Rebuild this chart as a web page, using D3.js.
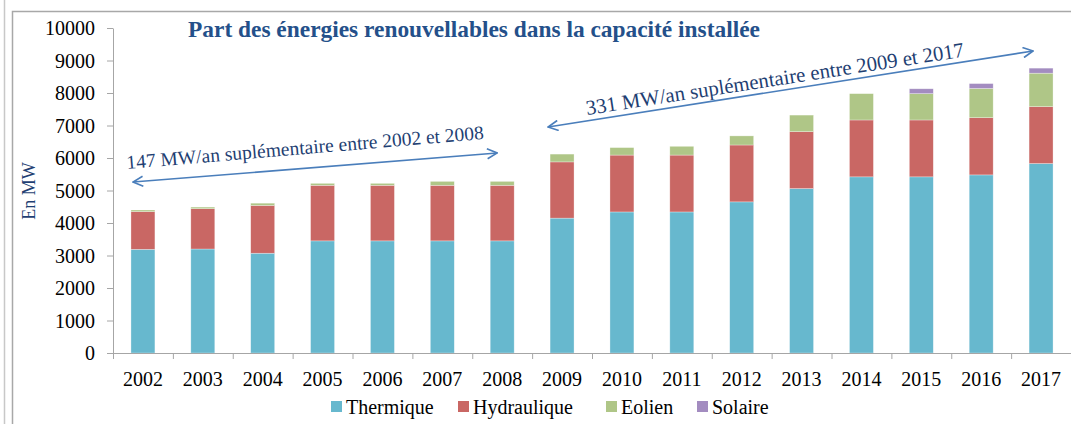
<!DOCTYPE html>
<meta charset="utf-8">
<html>
<head>
<script src="https://d3js.org/d3.v7.min.js"></script>
<style>
  body { margin: 0; background: #fff; }
  text { font-family: "Liberation Serif", "Times New Roman", serif; }
</style>
</head>
<body>
<div id="my_dataviz"></div>
<script>
// data (MW)
const years = ["2002","2003","2004","2005","2006","2007","2008","2009","2010","2011","2012","2013","2014","2015","2016","2017"];
const thermique = [3190, 3200, 3070, 3450, 3450, 3450, 3450, 4150, 4340, 4340, 4650, 5060, 5420, 5420, 5480, 5830];
const hydraulique = [1160, 1240, 1470, 1710, 1710, 1710, 1710, 1730, 1750, 1750, 1750, 1750, 1750, 1750, 1760, 1750];
const eolien = [50, 50, 70, 60, 60, 120, 120, 240, 230, 270, 280, 510, 810, 810, 900, 1030];
const solaire = [0, 0, 0, 0, 0, 0, 0, 0, 0, 0, 0, 0, 0, 150, 150, 155];
const seriesNames = ["Thermique", "Hydraulique", "Eolien", "Solaire"];
const colors = ["#67b8ce", "#c96764", "#afc687", "#a38cc0"];
const yTicks = [0, 1000, 2000, 3000, 4000, 5000, 6000, 7000, 8000, 9000, 10000];

const width = 1071, height = 424;
const plotLeft = 113, plotRight = 1071, plotTop = 28, plotBottom = 353;

const svg = d3.select("#my_dataviz")
  .append("svg")
    .attr("width", width)
    .attr("height", height);

// frame lines of the pasted picture
svg.append("line").attr("x1", 4.5).attr("x2", 4.5).attr("y1", 0).attr("y2", height)
  .attr("stroke", "#c8c8c8").attr("stroke-width", 1.5);
svg.append("path").attr("d", `M12.5,${height} V11.5 H${width}`)
  .attr("fill", "none").attr("stroke", "#a8a8a8").attr("stroke-width", 1.5);

const rows = years.map((y, i) => ({
  year: y,
  Thermique: thermique[i], Hydraulique: hydraulique[i], Eolien: eolien[i], Solaire: solaire[i]
}));
const stacked = d3.stack().keys(seriesNames)(rows);

const x = d3.scaleBand()
  .domain(years)
  .range([plotLeft, plotRight])
  .paddingInner(0.6)
  .paddingOuter(0.3);
const y = d3.scaleLinear()
  .domain([0, 10000])
  .range([plotBottom, plotTop]);
const color = d3.scaleOrdinal().domain(seriesNames).range(colors);

// bars
svg.append("g")
  .selectAll("g")
  .data(stacked)
  .join("g")
    .attr("fill", d => color(d.key))
  .selectAll("rect")
  .data(d => d.filter(v => v[1] > v[0]))
  .join("rect")
    .attr("x", d => x(d.data.year))
    .attr("y", d => y(d[1]))
    .attr("height", d => y(d[0]) - y(d[1]))
    .attr("width", x.bandwidth())
    .attr("stroke", "#ffffff")
    .attr("stroke-opacity", 0.5)
    .attr("stroke-width", 0.6);

// Y axis
const yAxis = svg.append("g")
  .attr("transform", `translate(${plotLeft},0)`)
  .call(d3.axisLeft(y).tickValues(yTicks).tickFormat(d3.format("d"))
    .tickSize(6).tickSizeOuter(0).tickPadding(12));
yAxis.select(".domain").attr("stroke", "#a6a6a6");
yAxis.selectAll(".tick line").attr("stroke", "#a6a6a6");
yAxis.selectAll(".tick text")
  .attr("font-size", 20)
  .attr("fill", "#000")
  .attr("dy", "0.34em");

// X axis: ticks at category boundaries, labels under bars
const xi = d3.scaleLinear().domain([0, years.length]).range([plotLeft, plotRight]);
const xAxis = svg.append("g")
  .attr("transform", `translate(0,${plotBottom})`)
  .call(d3.axisBottom(xi).tickValues(d3.range(years.length + 1)).tickFormat("").tickSize(6).tickSizeOuter(0));
xAxis.select(".domain").attr("stroke", "#a6a6a6");
xAxis.selectAll(".tick line").attr("stroke", "#a6a6a6");
svg.append("g")
  .selectAll("text")
  .data(years)
  .join("text")
    .attr("x", d => x(d) + x.bandwidth() / 2)
    .attr("y", 386)
    .attr("text-anchor", "middle")
    .attr("font-size", 20)
    .attr("fill", "#000")
    .text(d => d);

// Y axis title
svg.append("text")
  .attr("transform", "translate(35,191) rotate(-90)")
  .attr("text-anchor", "middle")
  .attr("font-size", 18)
  .attr("fill", "#1f3f73")
  .text("En MW");

// title
svg.append("text")
  .attr("x", 474)
  .attr("y", 37)
  .attr("text-anchor", "middle")
  .attr("font-size", 23.4)
  .attr("font-weight", "bold")
  .attr("fill", "#24508a")
  .text("Part des énergies renouvellables dans la capacité installée");

// annotation arrows
const defs = svg.append("defs");
defs.append("marker")
  .attr("id", "head")
  .attr("viewBox", "0 0 12 12")
  .attr("refX", 11).attr("refY", 6)
  .attr("markerWidth", 12).attr("markerHeight", 12)
  .attr("markerUnits", "userSpaceOnUse")
  .attr("orient", "auto-start-reverse")
  .append("path")
    .attr("d", "M1,1 L11,6 L1,11")
    .attr("fill", "none")
    .attr("stroke", "#4a7ebb")
    .attr("stroke-width", 1.6);

// arrows span the year groups they describe
const arrows = [
  {x1: x("2002") + 2, y1: 182, x2: x("2008") + 7, y2: 153,
   text: "147 MW/an suplémentaire entre 2002 et 2008", size: 19.5, tx: 127, ty: 169, angle: -4.8},
  {x1: x("2009") - 2, y1: 127, x2: x("2017") + 4, y2: 51,
   text: "331 MW/an suplémentaire entre 2009 et 2017", size: 20.8, tx: 587, ty: 115, angle: -8.8}
];
arrows.forEach(a => {
  svg.append("line")
    .attr("x1", a.x1).attr("y1", a.y1)
    .attr("x2", a.x2).attr("y2", a.y2)
    .attr("stroke", "#4a7ebb")
    .attr("stroke-width", 1.6)
    .attr("marker-start", "url(#head)")
    .attr("marker-end", "url(#head)");
  svg.append("text")
    .attr("transform", `translate(${a.tx},${a.ty}) rotate(${a.angle})`)
    .attr("font-size", a.size)
    .attr("fill", "#1f3f73")
    .text(a.text);
});

// legend
const legendX = [331, 458, 606, 697];
const legend = svg.append("g")
  .selectAll("g")
  .data(seriesNames)
  .join("g")
    .attr("transform", (d, i) => `translate(${legendX[i]},401)`);
legend.append("rect")
  .attr("width", 11).attr("height", 11)
  .attr("fill", d => color(d));
legend.append("text")
  .attr("x", 15)
  .attr("y", 13)
  .attr("font-size", 20)
  .attr("fill", "#000")
  .text(d => d);
</script>
</body>
</html>
